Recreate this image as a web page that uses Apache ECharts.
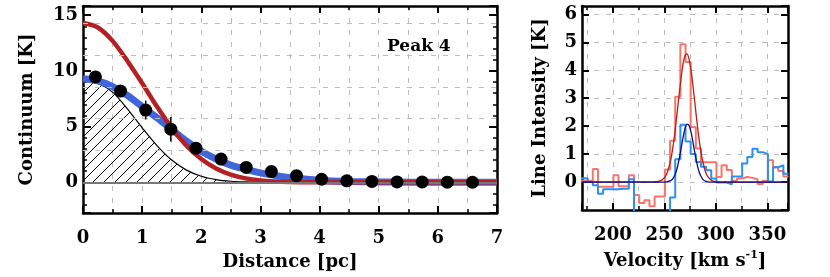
<!DOCTYPE html>
<html><head><meta charset="utf-8">
<script src="https://cdn.jsdelivr.net/npm/echarts@6/dist/echarts.min.js"></script>
<style>html,body{margin:0;padding:0;background:#fff}#c{width:830px;height:277px}</style>
</head><body><div id="c"></div>
<script>
// ---- Left panel data ----
const dotX = [0.21,0.635,1.06,1.485,1.91,2.335,2.76,3.185,3.61,4.035,4.46,4.885,5.31,5.735,6.16,6.585];
const dotY = [9.46,8.19,6.49,4.77,3.07,2.09,1.34,0.97,0.6,0.28,0.14,0.08,0.04,0.03,0.02,0.01];
const dotErr = [0.3,0.5,0.85,1.1,0.4,0.3,0.2,0.2,0.1,0.1,0.1,0.1,0.1,0.1,0.1,0.1];
const curveX = [0,0.25,0.5,0.75,1,1.25,1.5,1.75,2,2.25,2.5,2.75,3,3.25,3.5,3.75,4,4.5,5,5.5,6,7];
const blueFit = [9.3,9.1,8.6,7.8,6.8,5.8,4.75,3.7,2.8,2.1,1.55,1.18,0.85,0.62,0.42,0.3,0.17,0.08,0.04,0.02,0.01,0];
const redModel = [14.3,13.9,12.7,10.9,8.9,6.8,4.9,3.3,2.1,1.25,0.7,0.36,0.17,0.08,0.03,0.01,0,0,0,0,0,0];
const blackModel = [9.2,8.9,8.1,6.6,4.9,3.3,2.0,1.1,0.55,0.25,0.1,0.04,0.01,0,0];
const leftXTicks = [0,1,2,3,4,5,6,7];
const leftGridY = [2.857,5.714,8.571,11.429,14.286];
const peakLabel = 'Peak 4';

// ---- Right panel data ----
const velEdges = [165.5,170.5,175.5,180.5,185.5,190.5,195.5,200.5,205.5,210.5,215.5,220.5,225.5,230.5,235.5,240.5,245.5,250.5,255.5,260.5,265.5,270.5,275.5,280.5,285.5,290.5,295.5,300.5,305.5,310.5,315.5,320.5,325.5,330.5,335.5,340.5,345.5,350.5,355.5,360.5,365.5];
const redHist = [0.05,0.05,0.05,0.47,-0.17,-0.17,-0.17,0.24,-0.15,-0.15,0.24,-0.46,-0.75,-0.65,-0.87,-0.52,-0.52,0.45,1.48,3.05,4.93,4.3,1.96,1.2,0.71,0.71,0.71,0.18,0.6,0.43,0.05,0.13,0.18,0.15,0.1,-0.07,0.05,0.78,0.53,0.4,0.2];
const blueHist = [0.14,0.14,0.0,-0.11,-0.42,-0.26,-0.26,-0.26,-0.24,-0.24,0.1,-1.3,-1.3,-1.5,-1.5,-1.5,-1.5,-1.2,-0.55,0.82,2.05,1.45,1.0,0.72,0.55,0.42,0.13,-0.02,-0.02,-0.08,0.2,0.2,0.66,0.9,1.19,1.07,1.0,0.02,0.53,0.6,0.3];
const binWidth = 5;
const gaussV = [170,240,244,248,252,256,258,260,262,264,266,268,270,272,274,276,278,280,282,284,286,288,290,292,296,300,304,370];
const redGauss = [0,0.01,0.02,0.08,0.27,0.77,1.19,1.72,2.36,3.03,3.67,4.2,4.52,4.59,4.39,3.96,3.36,2.69,2.03,1.44,0.97,0.61,0.36,0.2,0.05,0.01,0,0];
const blueGauss = [0,0,0,0,0.01,0.05,0.11,0.24,0.45,0.77,1.16,1.57,1.91,2.07,2.02,1.76,1.37,0.96,0.6,0.33,0.17,0.07,0.03,0.01,0,0,0,0];

const FONT = "'DejaVu Serif', serif";
const zip = (xs, ys) => ys.map((y, i) => [xs[i], y]);
const histData = (edges, vals) => {
  const d = edges.map((e, i) => [e, vals[i]]);
  d.push([edges[edges.length - 1] + binWidth, vals[vals.length - 1]]);
  return d;
};

// hatch pattern
const hc = document.createElement('canvas');
hc.width = 11; hc.height = 11;
const hx = hc.getContext('2d');
hx.strokeStyle = '#000'; hx.lineWidth = 1;
hx.beginPath();
hx.moveTo(0, 11); hx.lineTo(11, 0);
hx.moveTo(-1, 1); hx.lineTo(1, -1);
hx.moveTo(10, 12); hx.lineTo(12, 10);
hx.stroke();

const dash = {type: [5, 7], color: '#bdbdbd', width: 1};
const lbl = {fontFamily: FONT, fontWeight: 'bold', fontSize: 18, color: '#000'};
const tick = (len) => ({show: true, inside: true, length: len, lineStyle: {color: '#000', width: 2}});
const minor = (n, len) => ({show: true, splitNumber: n, length: len, lineStyle: {color: '#000', width: 1.5}});
const aline = {show: true, onZero: false, lineStyle: {color: '#000', width: 2.5}};

const chart = echarts.init(document.getElementById('c'), null, {renderer: 'canvas'});
chart.setOption({
  animation: false,
  backgroundColor: '#fff',
  grid: [
    {left: 83, top: 6, width: 414, height: 207},
    {left: 582, top: 6, width: 206, height: 208}
  ],
  graphic: [{type: 'text', left: 387, top: 38, z: 100,
    style: {text: peakLabel, font: "bold 17px 'DejaVu Serif', serif", fill: '#000'}}],
  xAxis: [
    {gridIndex: 0, type: 'value', position: 'bottom', min: 0, max: 7, interval: 1,
     axisLine: aline, axisTick: tick(7), minorTick: minor(2, 4),
     axisLabel: Object.assign({margin: 16, formatter: v => leftXTicks.includes(v) ? String(v) : ''}, lbl),
     splitLine: {show: true, lineStyle: dash}, minorSplitLine: {show: true, lineStyle: dash},
     name: 'Distance [pc]', nameLocation: 'middle', nameGap: 40, nameTextStyle: lbl},
    {gridIndex: 0, type: 'value', position: 'top', min: 0, max: 7, interval: 1,
     axisLine: aline, axisTick: tick(7), minorTick: minor(2, 4), axisLabel: {show: false}, splitLine: {show: false}},
    {gridIndex: 1, type: 'value', position: 'bottom', min: 170, max: 370, splitNumber: 4,
     axisLine: aline, axisTick: tick(7), minorTick: minor(2, 4),
     axisLabel: Object.assign({margin: 16, showMinLabel: false, showMaxLabel: false}, lbl),
     splitLine: {show: true, lineStyle: dash}, minorSplitLine: {show: true, lineStyle: dash},
     name: 'Velocity [km s{sup|-1}]', nameLocation: 'middle', nameGap: 40,
     nameTextStyle: Object.assign({lineHeight: 22, rich: {sup: {fontFamily: FONT, fontWeight: 'bold', fontSize: 11, lineHeight: 11, verticalAlign: 'top'}}}, lbl)},
    {gridIndex: 1, type: 'value', position: 'top', min: 170, max: 370, splitNumber: 4,
     axisLine: aline, axisTick: tick(7), minorTick: minor(2, 4), axisLabel: {show: false}, splitLine: {show: false}}
  ],
  yAxis: [
    {gridIndex: 0, type: 'value', position: 'left', min: -2.75, max: 15.83, splitNumber: 4,
     axisLine: aline, axisTick: tick(8), minorTick: minor(5, 4),
     axisLabel: Object.assign({margin: 5, showMinLabel: false, showMaxLabel: false}, lbl),
     splitLine: {show: false},
     name: 'Continuum [K]', nameLocation: 'middle', nameGap: 47, nameTextStyle: lbl},
    {gridIndex: 0, type: 'value', position: 'right', min: -2.75, max: 15.83, splitNumber: 4,
     axisLine: aline, axisTick: tick(8), minorTick: minor(5, 4), axisLabel: {show: false}, splitLine: {show: false}},
    {gridIndex: 1, type: 'value', position: 'left', min: -1, max: 6.3, interval: 1,
     axisLine: aline, axisTick: tick(7),
     axisLabel: Object.assign({margin: 5, showMinLabel: false, showMaxLabel: false}, lbl),
     splitLine: {show: true, lineStyle: dash},
     name: 'Line Intensity [K]', nameLocation: 'middle', nameGap: 33, nameTextStyle: lbl},
    {gridIndex: 1, type: 'value', position: 'right', min: -1, max: 6.3, interval: 1,
     axisLine: aline, axisTick: tick(7), axisLabel: {show: false}, splitLine: {show: false}}
  ],
  series: [
    {type: 'line', xAxisIndex: 0, yAxisIndex: 0, data: [], z: 1,
     markLine: {silent: true, symbol: 'none', label: {show: false}, animation: false,
       data: leftGridY.map(v => ({yAxis: v, lineStyle: dash})).concat([{yAxis: 0, lineStyle: {color: '#777', width: 2, type: 'solid'}}])}},
    {type: 'line', xAxisIndex: 0, yAxisIndex: 0, data: zip(curveX, blackModel), smooth: 0.3, symbol: 'none', z: 2,
     lineStyle: {color: '#000', width: 1.2}, areaStyle: {color: {image: hc, repeat: 'repeat'}, opacity: 1}},
    {type: 'line', xAxisIndex: 0, yAxisIndex: 0, data: zip(curveX, blueFit), smooth: 0.3, symbol: 'none', z: 3,
     lineStyle: {color: '#3f66dd', width: 7}},
    {type: 'line', xAxisIndex: 0, yAxisIndex: 0, data: zip(curveX, redModel), smooth: 0.3, symbol: 'none', z: 4,
     lineStyle: {color: '#b42124', width: 4.5}},
    {type: 'custom', xAxisIndex: 0, yAxisIndex: 0, z: 5,
     data: dotX.map((x, i) => [x, dotY[i], dotErr[i]]),
     renderItem: (params, api) => {
       const x = api.value(0), y = api.value(1), e = api.value(2);
       const a = api.coord([x, y - e]), b = api.coord([x, y + e]);
       return {type: 'line', shape: {x1: a[0], y1: a[1], x2: b[0], y2: b[1]}, style: {stroke: '#000', lineWidth: 1.5}};
     }},
    {type: 'scatter', xAxisIndex: 0, yAxisIndex: 0, data: zip(dotX, dotY), symbol: 'circle', symbolSize: 13, z: 6,
     itemStyle: {color: '#000', opacity: 1}},
    {type: 'line', xAxisIndex: 2, yAxisIndex: 2, data: histData(velEdges, redHist), step: 'end', symbol: 'none', z: 2,
     lineStyle: {color: '#fa7468', width: 2}},
    {type: 'line', xAxisIndex: 2, yAxisIndex: 2, data: histData(velEdges, blueHist), step: 'end', symbol: 'none', z: 3,
     lineStyle: {color: '#2b8ff5', width: 2}},
    {type: 'line', xAxisIndex: 2, yAxisIndex: 2, data: zip(gaussV, redGauss), smooth: 0.3, symbol: 'none', z: 4,
     lineStyle: {color: '#b81e1e', width: 1.3}},
    {type: 'line', xAxisIndex: 2, yAxisIndex: 2, data: zip(gaussV, blueGauss), smooth: 0.3, symbol: 'none', z: 5,
     lineStyle: {color: '#0c0c80', width: 1.3}}
  ]
});
</script></body></html>
